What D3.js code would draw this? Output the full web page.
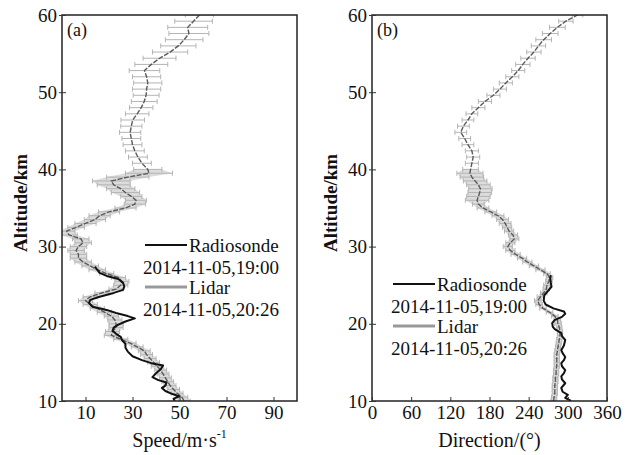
<!DOCTYPE html>
<html>
<head>
<meta charset="utf-8">
<script src="https://cdn.jsdelivr.net/npm/d3@7"></script>
<style>
  body { margin: 0; background: #fff; }
  svg text { font-family: "Liberation Serif", "Times New Roman", serif; fill: #111; }
</style>
</head>
<body>
<svg id="chart" width="636" height="455"></svg>
<script>
// ---- data ----
const lidarAlt = [10, 10.5, 11, 11.5, 12, 12.5, 13, 13.5, 14, 14.5, 15, 15.5, 16, 16.5, 17, 17.5,
    18, 18.5, 19, 19.5, 20, 20.5, 21, 21.5, 22, 22.5, 23, 23.5, 24, 24.5, 25, 25.5, 26, 26.5,
    27, 27.5, 28, 28.5, 29, 29.5, 30, 30.5, 31, 31.5, 32, 32.5, 33, 33.5, 34, 34.5, 35, 35.5,
    36, 36.5, 37, 37.5, 38, 38.5, 39, 39.5, 40,
    40.8, 41.6, 42.4, 43.2, 44, 44.8, 45.6, 46.4, 47.2, 48, 48.8, 49.6, 50.4, 51.2, 52, 52.8,
    53.6, 54.4, 55.2, 56, 56.8, 57.6, 58.4, 59.2, 60]

const lidarSpeed = [52, 51, 49, 47.5, 46, 45, 44, 43, 42, 40.5, 39, 37.5, 36, 35, 32, 29,
    25, 21, 21.5, 23, 23, 22.5, 21, 18, 15, 12, 10, 12, 17, 23, 25, 25.5, 24, 19,
    15, 12, 9, 7, 7, 6, 7, 9, 8, 3, 2, 6, 10, 14, 16, 20, 27, 31,
    31.5, 29.5, 27, 25, 22, 21, 28, 37, 36.5,
    34, 32.3, 31, 30, 29.5, 29, 29.5, 30.1, 32, 33.7, 35, 35.8, 36, 36.5, 36, 35.1,
    38, 41.5, 46, 49.5, 52, 54, 53.5, 56, 58.5]

const lidarSpeedErr = [2.5, 2.5, 2.5, 2.5, 2.5, 2.5, 2.5, 2.5, 2.5, 2.5, 2.5, 2.5, 2.5, 2.5, 2.5, 2.5,
    3, 3, 3, 3, 3, 3, 3, 3, 3, 3, 3, 3, 3, 3, 3, 3, 3, 3,
    3.5, 3.5, 3.5, 3.5, 3.5, 3.5, 3.5, 3.5, 3.5, 3.5, 3.5, 3.5, 4.5, 4.5, 4.5, 4.5, 4.5, 4.5,
    4.5, 4.5, 6, 6, 7, 8, 9, 10, 6,
    4, 4, 4, 4, 4, 4.5, 4.5, 5, 5, 5, 5.5, 5.5, 6, 6, 6, 6.5,
    7, 7, 7.5, 7.5, 8, 8.5, 8.5, 8, 6]

const lidarDir = [278, 279, 280, 280, 280, 281, 281, 282, 282, 283, 283, 283, 283, 284, 285, 286,
    287, 288, 288, 287, 285, 284, 280, 272, 262, 256, 254, 258, 263, 267, 268, 271, 272, 268,
    258, 248, 238, 230, 220, 212, 208, 212, 218, 216, 210, 207, 204, 200, 193, 182, 170, 163,
    161, 163, 165, 166, 163, 158, 153, 150, 151,
    153, 155, 153, 147, 142, 136, 140, 147, 153, 163, 173, 186, 196, 205, 215, 224,
    231, 239, 248, 255, 263, 273, 284, 297, 315]

const lidarDirErr = [4, 4, 4, 4, 4, 4, 4, 4, 4, 4, 4, 4, 4, 4, 4, 4,
    4, 4, 4, 4, 5, 5, 5, 5, 5, 5, 5, 5, 5, 5, 5, 5, 5, 5,
    7, 7, 7, 7, 7, 7, 7, 7, 7, 7, 7, 7, 9, 9, 9, 9, 9, 9,
    18, 18, 18, 18, 18, 18, 18, 20, 12,
    10, 10, 10, 9, 9, 9, 9, 9, 9, 10, 10, 10, 10, 10, 10, 10,
    11, 11, 11, 11, 12, 12, 12, 11, 8]

const sondeSpeedAlt = [10.0, 10.3, 10.6, 10.9, 11.3, 11.7, 12.0, 12.4, 12.7, 13.1, 13.6, 14.1, 14.6,
    14.9, 15.3, 15.8, 16.4, 16.9, 17.4, 17.9, 18.3, 18.7, 19.1, 19.5, 19.9, 20.3, 20.7, 21.0,
    21.4, 21.8, 22.2, 22.7, 23.1, 23.5, 24.0, 24.4, 24.8, 25.3, 25.8, 26.2, 26.6, 27.0, 27.4]
const sondeSpeed = [48, 47.5, 50, 47, 44, 42.5, 44, 44.5, 41, 38.5, 40, 42, 43,
    38, 34, 30, 28, 27, 27, 25.5, 25, 23, 21.5, 22, 24, 27, 31, 28,
    23, 19, 13, 11.5, 12, 16, 22, 26, 26.5, 26, 24, 19, 16, 15, 14]

const sondeDirAlt = [10.0, 10.4, 10.8, 11.2, 11.7, 12.3, 12.8, 13.2, 13.6, 14.0, 14.5, 14.9, 15.3,
    15.7, 16.2, 16.6, 17.2, 17.9, 18.4, 18.8, 19.3, 19.6, 20.1, 20.5, 20.9, 21.3, 21.6, 22.0,
    22.5, 23.0, 23.7, 24.3, 24.8, 25.3, 25.9, 26.3]
const sondeDir = [305, 296, 300, 292, 290, 296, 291, 290, 294, 296, 291, 290, 294,
    296, 292, 290, 294, 296, 291, 290, 280, 277, 276, 280, 291, 296, 294, 278,
    266, 263, 264, 270, 275, 274, 273, 274]

const altTicks = [10, 20, 30, 40, 50, 60]
const speedTicks = [10, 30, 50, 70, 90]
const dirTicks = [0, 60, 120, 180, 240, 300, 360]
const legendNames = ['Radiosonde', 'Lidar']
const legendTimes = ['2014-11-05,19:00', '2014-11-05,20:26']

class ProfileChart {
    constructor(_config) {
        this.config = {
            parentElement: _config.parentElement,
            id: _config.id,
            left: _config.left,
            width: _config.width || 235,
            top: _config.top || 15,
            bottom: _config.bottom || 401,
            xDomain: _config.xDomain,
            xTicks: _config.xTicks,
            tag: _config.tag,
            legendPos: _config.legendPos,
            titleX: _config.titleX,
        }
        this.initVis()
    }

    initVis() {
        let vis = this
        const c = vis.config

        vis.xScale = d3.scaleLinear().domain(c.xDomain).range([c.left, c.left + c.width])
        vis.yScale = d3.scaleLinear().domain([10, 60]).range([c.bottom, c.top])

        vis.svg = d3.select(c.parentElement)
        vis.g = vis.svg.append('g')

        vis.svg.append('clipPath').attr('id', 'clip-' + c.id)
            .append('rect')
            .attr('x', c.left).attr('y', c.top)
            .attr('width', c.width).attr('height', c.bottom - c.top)

        vis.plotG = vis.g.append('g').attr('clip-path', `url(#clip-${c.id})`)
    }

    updateVis(lidarVals, lidarErr, sondeAlt, sondeVals) {
        let vis = this
        vis.lidar = lidarAlt.map((a, i) => ({alt: a, v: lidarVals[i], e: lidarErr[i]}))
        vis.sonde = sondeAlt.map((a, i) => ({alt: a, v: sondeVals[i]}))
        vis.renderVis()
    }

    renderVis() {
        let vis = this
        const c = vis.config
        const x = vis.xScale, y = vis.yScale

        // shaded band in the dense lower part
        const band = vis.lidar.filter(d => d.alt <= 40)
        vis.plotG.append('path')
            .datum(band)
            .attr('fill', '#dcdcdc')
            .attr('d', d3.area()
                .y(d => y(d.alt))
                .x0(d => x(d.v - d.e))
                .x1(d => x(d.v + d.e)))

        // error bars
        const bars = vis.plotG.selectAll('.ebar').data(vis.lidar).join('g').attr('class', 'ebar')
        bars.append('line')
            .attr('x1', d => x(d.v - d.e)).attr('x2', d => x(d.v + d.e))
            .attr('y1', d => y(d.alt)).attr('y2', d => y(d.alt))
        bars.append('line')
            .attr('x1', d => x(d.v - d.e)).attr('x2', d => x(d.v - d.e))
            .attr('y1', d => y(d.alt) - 2.5).attr('y2', d => y(d.alt) + 2.5)
        bars.append('line')
            .attr('x1', d => x(d.v + d.e)).attr('x2', d => x(d.v + d.e))
            .attr('y1', d => y(d.alt) - 2.5).attr('y2', d => y(d.alt) + 2.5)
        bars.selectAll('line').attr('stroke', '#b4b4b4').attr('stroke-width', 1)

        const line = d3.line().x(d => x(d.v)).y(d => y(d.alt))

        // lidar profile
        vis.plotG.append('path')
            .datum(vis.lidar)
            .attr('fill', 'none')
            .attr('stroke', '#5a5a5a')
            .attr('stroke-width', 1.4)
            .attr('stroke-dasharray', '5,1.5')
            .attr('d', line)

        // radiosonde profile
        vis.plotG.append('path')
            .datum(vis.sonde)
            .attr('fill', 'none')
            .attr('stroke', '#111')
            .attr('stroke-width', 2)
            .attr('stroke-linejoin', 'round')
            .attr('d', line)

        // frame
        vis.g.append('rect')
            .attr('x', c.left).attr('y', c.top)
            .attr('width', c.width).attr('height', c.bottom - c.top)
            .attr('fill', 'none').attr('stroke', '#222').attr('stroke-width', 1.5)

        // axes
        const yAxisG = vis.g.append('g')
            .attr('transform', `translate(${c.left},0)`)
            .call(d3.axisLeft(y).tickValues(altTicks).tickSizeInner(3).tickSizeOuter(0).tickPadding(2))
        yAxisG.selectAll('.tick line').attr('x1', -3).attr('x2', 4)

        const xAxisG = vis.g.append('g')
            .attr('transform', `translate(0,${c.bottom})`)
            .call(d3.axisBottom(x).tickValues(c.xTicks).tickSizeInner(-4).tickSizeOuter(0).tickPadding(5))

        vis.g.selectAll('.domain').remove()
        vis.g.selectAll('.tick line').attr('stroke', '#333')
        vis.g.selectAll('.tick text')
            .attr('font-size', 19)
            .attr('font-family', '"Liberation Serif", "Times New Roman", serif')
            .attr('fill', '#111')

        // panel tag
        vis.g.append('text')
            .attr('x', c.left + 5).attr('y', 36)
            .attr('font-size', 18)
            .text(c.tag)

        // axis titles
        vis.g.append('text')
            .attr('transform', `translate(${c.left - 35},203) rotate(-90)`)
            .attr('text-anchor', 'middle')
            .attr('font-size', 19)
            .attr('font-weight', 'bold')
            .text('Altitude/km')

        const title = vis.g.append('text')
            .attr('x', c.left + c.width / 2).attr('y', 447)
            .attr('text-anchor', 'middle')
            .attr('font-size', 20)
        c.titleX(title)

        // legend
        const lp = c.legendPos
        const styles = [{stroke: '#111', w: 2}, {stroke: '#999', w: 3}]
        legendNames.forEach((name, i) => {
            const ly = lp.y + i * 42
            vis.g.append('line')
                .attr('x1', lp.x).attr('x2', lp.x + 42)
                .attr('y1', ly).attr('y2', ly)
                .attr('stroke', styles[i].stroke).attr('stroke-width', styles[i].w)
            vis.g.append('text')
                .attr('x', lp.x + 44).attr('y', ly + 7)
                .attr('font-size', 19)
                .text(name)
            vis.g.append('text')
                .attr('x', lp.x - 2).attr('y', ly + 29)
                .attr('font-size', 19)
                .text(legendTimes[i])
        })
    }
}

const speedChart = new ProfileChart({
    parentElement: '#chart',
    id: 'a',
    left: 62,
    xDomain: [0, 100],
    xTicks: speedTicks,
    tag: '(a)',
    legendPos: {x: 145, y: 245},
    titleX: t => {
        t.append('tspan').text('Speed/m·s')
        t.append('tspan').attr('font-size', 12).attr('dy', -9).text('-1')
    }
})
speedChart.updateVis(lidarSpeed, lidarSpeedErr, sondeSpeedAlt, sondeSpeed)

const dirChart = new ProfileChart({
    parentElement: '#chart',
    id: 'b',
    left: 372,
    xDomain: [0, 360],
    xTicks: dirTicks,
    tag: '(b)',
    legendPos: {x: 393, y: 284},
    titleX: t => t.text('Direction/(°)')
})
dirChart.updateVis(lidarDir, lidarDirErr, sondeDirAlt, sondeDir)
</script>
</body>
</html>
